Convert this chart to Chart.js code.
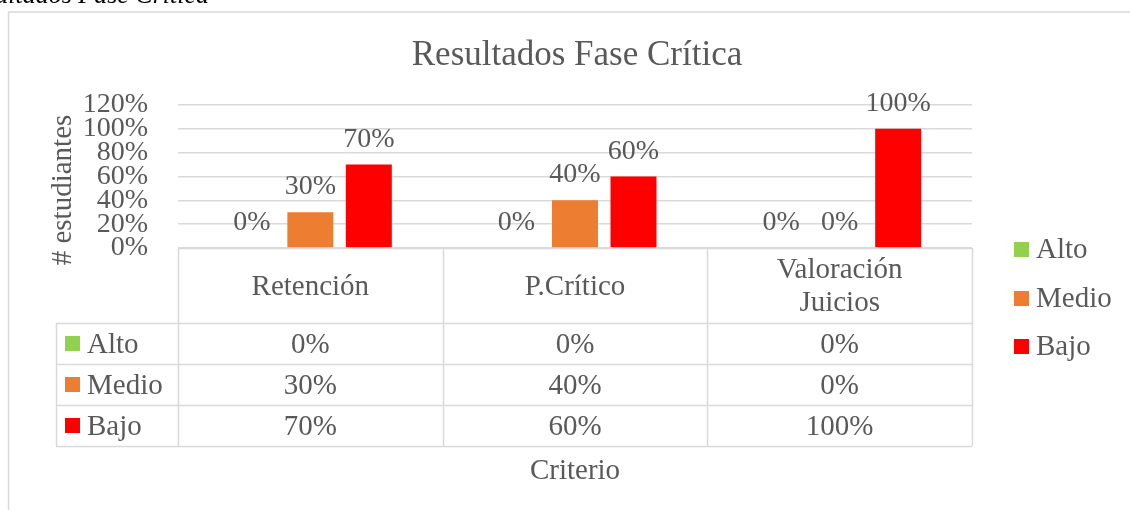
<!DOCTYPE html>
<html>
<head>
<meta charset="utf-8">
<script src="https://cdn.jsdelivr.net/npm/chart.js@4"></script>
<style>
  html,body{margin:0;padding:0;background:#fff;overflow:hidden;}
  #wrap{position:relative;width:1130px;height:510px;}
</style>
</head>
<body>
<div id="wrap"><canvas id="chart" width="1130" height="510"></canvas></div>
<script>
/* ===== 資料 ===== */
const categories=['Retención','P.Crítico',['Valoración','Juicios']];
const seriesNames=['Alto','Medio','Bajo'];
const alto=[0,0,0];
const medio=[0.3,0.4,0];
const bajo=[0.7,0.6,1];
const yTicks=[0,0.2,0.4,0.6,0.8,1,1.2];
const colors=['#92d050','#ed7d31','#ff0000'];

const TXT='#595959';
const LINE='#d9d9d9';
const FONT='"Liberation Serif","Times New Roman",serif';
const pct=v=>Math.round(v*100)+'%';

/* ===== 外框、標題、表格、圖例 ===== */
const decor={
  id:'decor',
  beforeDraw(chart){
    const c=chart.ctx;
    c.save();
    // 頁面標題（被裁切）
    c.font='italic 26px '+FONT; c.fillStyle='#000';
    c.textAlign='right'; c.textBaseline='alphabetic';
    c.fillText('Resultados Fase Crítica',209,3);
    // 圖表外框
    c.strokeStyle=LINE; c.lineWidth=1.5;
    c.beginPath(); c.moveTo(8.5,515); c.lineTo(8.5,12); c.lineTo(1135,12); c.stroke();
    c.restore();
  },
  afterDatasetsDraw(chart){
    const c=chart.ctx;
    c.save();
    c.font='28px '+FONT; c.fillStyle=TXT;
    c.textAlign='center'; c.textBaseline='alphabetic';
    chart.data.datasets.forEach((ds,di)=>{
      chart.getDatasetMeta(di).data.forEach((el,i)=>{
        c.fillText(pct(ds.data[i]),el.x,el.y-18);
      });
    });
    c.restore();
  },
  afterDraw(chart){
    const c=chart.ctx, a=chart.chartArea, xs=chart.scales.x;
    const left=Math.round(a.left), right=Math.round(a.right), top=Math.round(a.bottom);
    const rowsY=[323,364,405,446];
    const colX=[left];
    for(let i=1;i<categories.length;i++){
      colX.push(Math.round((xs.getPixelForValue(i-1)+xs.getPixelForValue(i))/2));
    }
    colX.push(right);
    c.save();
    // 標題
    c.fillStyle=TXT; c.textAlign='center'; c.textBaseline='alphabetic';
    c.font='35px '+FONT;
    c.fillText('Resultados Fase Crítica',577,65);
    // 格線
    c.strokeStyle=LINE; c.lineWidth=1.5;
    c.beginPath();
    colX.forEach(x=>{ c.moveTo(x+0.5,top); c.lineTo(x+0.5,rowsY[3]); });
    c.moveTo(56.5,rowsY[0]); c.lineTo(56.5,rowsY[3]);
    c.moveTo(left,top+0.5); c.lineTo(right,top+0.5);
    rowsY.forEach(y=>{ c.moveTo(56,y+0.5); c.lineTo(right,y+0.5); });
    c.stroke();
    // 類別名稱
    c.font='29px '+FONT;
    categories.forEach((lab,i)=>{
      const x=xs.getPixelForValue(i);
      if(Array.isArray(lab)){
        c.fillText(lab[0],x,278); c.fillText(lab[1],x,311);
      }else c.fillText(lab,x,295);
    });
    // 數值列
    const table=[alto,medio,bajo];
    table.forEach((arr,r)=>{
      const y0=rowsY[r];
      c.fillStyle=colors[r]; c.fillRect(65,y0+13,15,15);
      c.fillStyle=TXT; c.textAlign='left';
      c.fillText(seriesNames[r],87,y0+30);
      c.textAlign='center';
      arr.forEach((v,i)=>c.fillText(pct(v),xs.getPixelForValue(i),y0+30));
    });
    // 軸標題
    c.fillText('Criterio',575,479);
    c.save();
    c.translate(71,190); c.rotate(-Math.PI/2);
    c.fillText('# estudiantes',0,0);
    c.restore();
    // 圖例
    const legY=[258,307,355];
    seriesNames.forEach((n,i)=>{
      c.fillStyle=colors[i]; c.fillRect(1014,legY[i]-16,15,15);
      c.fillStyle=TXT; c.textAlign='left';
      c.fillText(n,1036,legY[i]);
    });
    c.restore();
  }
};

/* ===== 圖表 ===== */
new Chart(document.getElementById('chart'),{
  type:'bar',
  data:{
    labels:categories,
    datasets:seriesNames.map((n,i)=>({
      label:n,
      data:[alto,medio,bajo][i],
      backgroundColor:colors[i],
      categoryPercentage:0.663,
      barPercentage:0.786
    }))
  },
  options:{
    responsive:false,
    animation:false,
    devicePixelRatio:1,
    layout:{padding:{top:105,right:158,bottom:262,left:0}},
    plugins:{legend:{display:false},title:{display:false},tooltip:{enabled:false}},
    scales:{
      x:{
        ticks:{display:false},
        grid:{display:false},
        border:{display:false},
        afterFit(s){ s.height=0; }
      },
      y:{
        min:0,max:1.2,
        afterBuildTicks(s){ s.ticks=yTicks.map(v=>({value:v})); },
        ticks:{
          autoSkip:false,
          padding:30,
          color:TXT,
          font:{family:FONT,size:28},
          callback:v=>pct(v)
        },
        grid:{color:LINE,lineWidth:1.5,drawTicks:false},
        border:{display:false},
        afterFit(s){ s.width=178; }
      }
    }
  },
  plugins:[decor]
});
</script>
</body>
</html>
